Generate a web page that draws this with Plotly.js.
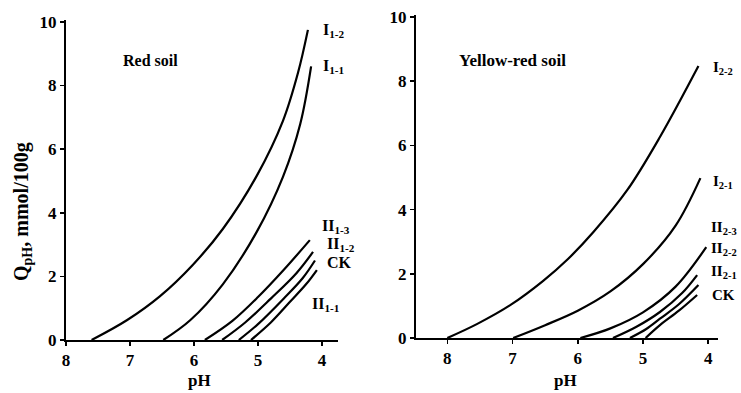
<!DOCTYPE html>
<html><head><meta charset="utf-8">
<script src="https://cdn.plot.ly/plotly-3.0.1.min.js"></script>
<style>html,body{margin:0;padding:0;background:#fff}#c{width:741px;height:393px}</style>
</head><body><div id="c"></div>
<script>
// Red soil (left panel)
const red_I12_pH = [7.6, 7.05, 6.53, 6.02, 5.55, 5.02, 4.61, 4.375, 4.22];
const red_I12_Q  = [0, 0.62, 1.38, 2.36, 3.49, 5.16, 6.89, 8.4, 9.75];
const red_I11_pH = [6.48, 6.06, 5.55, 5.02, 4.61, 4.34, 4.17];
const red_I11_Q  = [0, 0.62, 1.75, 3.4, 5.13, 6.79, 8.6];
const red_II13_pH = [5.83, 5.4, 5.0, 4.6, 4.19];
const red_II13_Q  = [0, 0.6, 1.35, 2.2, 3.14];
const red_II12_pH = [5.56, 5.2, 4.8, 4.4, 4.14];
const red_II12_Q  = [0, 0.55, 1.3, 2.1, 2.77];
const red_CK_pH = [5.30, 5.0, 4.6, 4.3, 4.11];
const red_CK_Q  = [0, 0.5, 1.3, 1.95, 2.5];
const red_II11_pH = [5.11, 4.8, 4.5, 4.25, 4.08];
const red_II11_Q  = [0, 0.55, 1.2, 1.75, 2.2];

// Yellow-red soil (right panel)
const yr_I22_pH = [8.0, 7.54, 7.03, 6.53, 6.15, 5.76, 5.24, 4.74, 4.15];
const yr_I22_Q  = [0, 0.44, 1.03, 1.78, 2.46, 3.3, 4.61, 6.26, 8.47];
const yr_I21_pH = [6.99, 6.5, 6.0, 5.5, 5.0, 4.5, 4.12];
const yr_I21_Q  = [0, 0.4, 0.85, 1.45, 2.3, 3.5, 4.98];
const yr_II23_pH = [5.96, 5.5, 5.0, 4.5, 4.03];
const yr_II23_Q  = [0, 0.3, 0.8, 1.6, 2.83];
const yr_II22_pH = [5.46, 5.1, 4.74, 4.4, 4.17];
const yr_II22_Q  = [0, 0.35, 0.81, 1.4, 1.96];
const yr_II21_pH = [5.2, 4.95, 4.74, 4.45, 4.15];
const yr_II21_Q  = [0, 0.28, 0.6, 1.05, 1.65];
const yr_CK_pH = [4.96, 4.74, 4.45, 4.17];
const yr_CK_Q  = [0, 0.4, 0.85, 1.34];

const xTicks = [8, 7, 6, 5, 4];
const yTicks = [0, 2, 4, 6, 8, 10];

const W = 741, H = 393;
const fx = p => p / W, fy = p => 1 - p / H;
const F = 'Liberation Serif, Times New Roman, serif';

function tr(x, y, xa, ya) {
  return {x: x, y: y, xaxis: xa, yaxis: ya, type: 'scatter', mode: 'lines',
    line: {color: '#000', width: 2.2, shape: 'spline', smoothing: 1}, hoverinfo: 'skip'};
}
const data = [
  tr(red_I12_pH, red_I12_Q, 'x', 'y'),
  tr(red_I11_pH, red_I11_Q, 'x', 'y'),
  tr(red_II13_pH, red_II13_Q, 'x', 'y'),
  tr(red_II12_pH, red_II12_Q, 'x', 'y'),
  tr(red_CK_pH, red_CK_Q, 'x', 'y'),
  tr(red_II11_pH, red_II11_Q, 'x', 'y'),
  tr(yr_I22_pH, yr_I22_Q, 'x2', 'y2'),
  tr(yr_I21_pH, yr_I21_Q, 'x2', 'y2'),
  tr(yr_II23_pH, yr_II23_Q, 'x2', 'y2'),
  tr(yr_II22_pH, yr_II22_Q, 'x2', 'y2'),
  tr(yr_II21_pH, yr_II21_Q, 'x2', 'y2'),
  tr(yr_CK_pH, yr_CK_Q, 'x2', 'y2'),
];

const tickFont = {family: F, size: 17, color: '#000', weight: 'bold'};
function xa(dom, range, anchor) {
  return {domain: dom, range: range, anchor: anchor, tickvals: xTicks, ticktext: xTicks.map(String),
    showline: true, linecolor: '#000', linewidth: 2, ticks: 'outside', ticklen: 4, tickwidth: 1.5,
    tickcolor: '#000', showgrid: false, zeroline: false, tickfont: tickFont, fixedrange: true};
}
function ya(dom, anchor) {
  return {domain: dom, range: [0, 10.06], anchor: anchor, tickvals: yTicks, ticktext: yTicks.map(String),
    showline: true, linecolor: '#000', linewidth: 2, ticks: 'outside', ticklen: 4, tickwidth: 1.5,
    tickcolor: '#000', showgrid: false, zeroline: false, tickfont: tickFont, fixedrange: true};
}

const lab = (t, x, y, size, extra) => Object.assign({text: t, x: fx(x), y: fy(y), xref: 'paper', yref: 'paper',
  showarrow: false, xanchor: 'left', yanchor: 'middle',
  font: {family: F, size: size || 16, color: '#000', weight: 'bold'}}, extra || {});

const annotations = [
  lab('Red soil', 121, 60, 16),
  lab('Yellow-red soil', 457, 60, 17),
  lab('I<sub>1-2</sub>', 321, 30),
  lab('I<sub>1-1</sub>', 321, 66),
  lab('II<sub>1-3</sub>', 320, 226),
  lab('II<sub>1-2</sub>', 325, 244),
  lab('CK', 325, 262),
  lab('II<sub>1-1</sub>', 310, 304),
  lab('I<sub>2-2</sub>', 711, 68, 15),
  lab('I<sub>2-1</sub>', 711, 182, 15),
  lab('II<sub>2-3</sub>', 709, 228, 15),
  lab('II<sub>2-2</sub>', 709, 249, 15),
  lab('II<sub>2-1</sub>', 709, 272, 15),
  lab('CK', 710, 295, 15),
  lab('pH', 199, 380, 17, {xanchor: 'center'}),
  lab('pH', 565, 380, 17, {xanchor: 'center'}),
  lab('Q<sub>pH</sub>, mmol/100g', 22, 212, 20, {xanchor: 'center', textangle: -90}),
];

const layout = {
  width: W, height: H, margin: {l: 0, r: 0, t: 0, b: 0},
  paper_bgcolor: '#fff', plot_bgcolor: 'rgba(0,0,0,0)', showlegend: false,
  xaxis: xa([fx(66), fx(338)], [8, 3.75], 'y'),
  yaxis: ya([fy(340), fy(20)], 'x'),
  xaxis2: xa([fx(416), fx(718)], [8.48, 3.85], 'y2'),
  yaxis2: ya([fy(338), fy(15)], 'x2'),
  annotations: annotations,
};
Plotly.newPlot('c', data, layout, {displayModeBar: false, staticPlot: true});
</script></body></html>
